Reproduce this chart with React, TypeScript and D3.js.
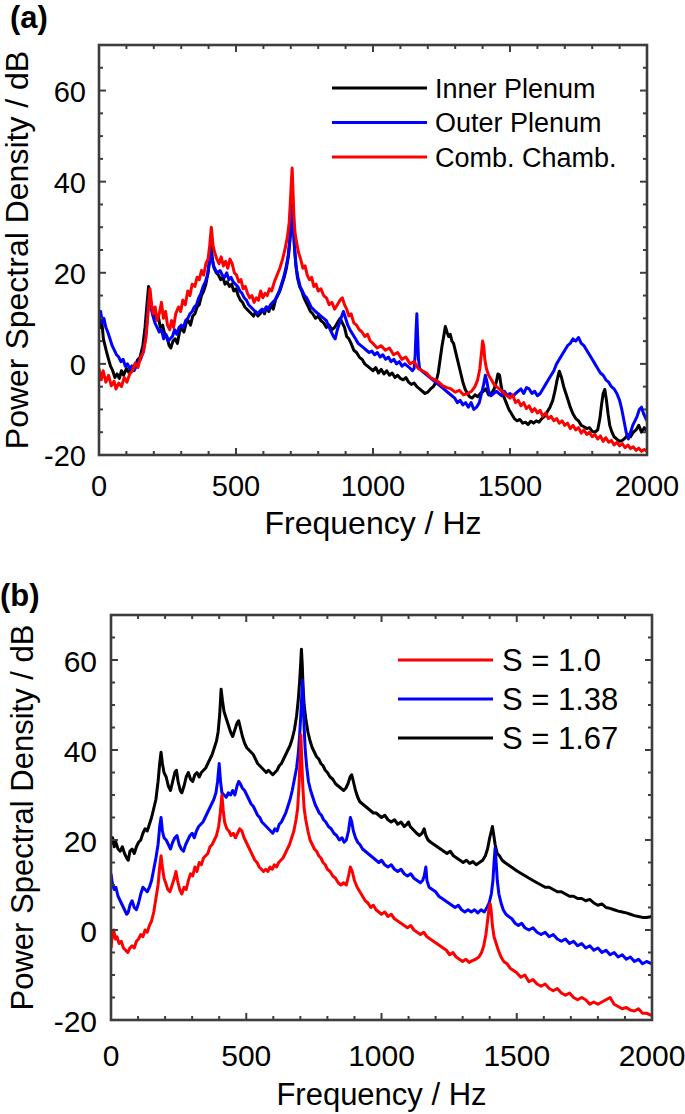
import React from 'react';
import * as d3 from 'd3';

type Pt = [number, number];

// ---------- Panel (a) data: PSD [Hz, dB] ----------
const innerPlenumA: Pt[] = [[0,11.5],[5,8],[10,9.5],[16,5.5],[22,4],[28,2.5],[35,1],[42,-0.5],[50,-1.5],[58,-3],[66,-2.2],[74,-3.2],[82,-1.5],[90,-2.5],[100,-1],[110,-2],[120,-0.5],[130,-1.2],[140,0.8],[150,1.5],[160,4],[168,8],[175,13],[181,17],[186,14.5],[192,12.5],[200,12],[208,10],[216,10.5],[224,8],[232,8.5],[240,6.5],[248,6],[256,4],[262,3.5],[270,5],[278,5.5],[286,4.5],[294,7],[302,8],[310,7],[318,9],[326,9.5],[334,8.5],[342,10.5],[350,11],[358,12.5],[366,13],[374,15],[382,16],[390,17.5],[398,20],[404,23],[409,26],[414,23],[420,21],[428,20],[436,19.5],[444,18.5],[452,19],[460,17.5],[468,18],[476,17],[484,17.5],[492,16],[500,16.5],[508,15],[516,14],[524,13.5],[532,12.5],[540,12],[548,11.5],[556,11],[564,10.5],[572,11.5],[580,10.5],[588,11],[596,12],[604,11],[612,12.5],[620,11.5],[628,13],[636,12],[644,14],[652,15],[660,16],[668,17.5],[676,19],[684,21],[692,24],[698,28],[702,32],[706,35],[709,31],[713,26],[718,22],[724,19],[732,17],[740,16],[748,14.5],[756,13.5],[764,12.5],[772,11.5],[780,11],[790,10],[800,10.5],[810,9.5],[820,9],[830,8],[840,8.5],[850,7.5],[860,8],[870,9],[880,10],[888,9],[896,8],[904,6],[912,5.5],[920,4.5],[930,3],[940,2.5],[950,1.5],[960,1],[970,0],[980,-0.5],[990,-1],[1000,-1.5],[1010,-0.8],[1020,-2],[1030,-1.2],[1040,-2.2],[1050,-1.5],[1060,-2.5],[1070,-2],[1080,-3],[1090,-2.5],[1100,-3.2],[1110,-3.5],[1120,-3],[1130,-4],[1140,-4.5],[1150,-4.2],[1160,-5],[1170,-5.5],[1180,-6],[1190,-6.5],[1200,-6.2],[1210,-5.5],[1220,-5],[1230,-4],[1238,-2],[1245,1],[1252,4],[1258,6],[1264,8.2],[1270,7],[1276,6],[1282,6.5],[1288,5],[1294,4.5],[1300,3],[1306,1.5],[1312,0],[1320,-2],[1328,-4],[1336,-5.5],[1344,-6.5],[1352,-7.2],[1362,-7.5],[1372,-6.8],[1382,-7.2],[1392,-6.5],[1402,-6],[1412,-5.5],[1422,-6.8],[1432,-6.5],[1442,-5.5],[1450,-4],[1456,-2.2],[1462,-2.5],[1468,-5],[1476,-7],[1486,-8.5],[1496,-10],[1506,-11],[1516,-12],[1526,-12.5],[1536,-12.2],[1546,-13],[1556,-12.8],[1566,-13.3],[1576,-12.6],[1586,-13],[1596,-12.5],[1606,-12.8],[1616,-12],[1626,-11.5],[1636,-10.5],[1646,-9.5],[1656,-8],[1664,-6],[1672,-3.5],[1680,-1.6],[1688,-3],[1696,-5],[1704,-6.5],[1712,-8],[1720,-9.5],[1730,-11],[1740,-12],[1750,-12.5],[1760,-13.5],[1770,-13.8],[1780,-14.2],[1790,-14],[1800,-14.8],[1810,-15],[1820,-14.5],[1828,-12],[1834,-9],[1840,-6.5],[1846,-5.6],[1852,-8],[1858,-11],[1864,-13.5],[1872,-15],[1880,-16],[1890,-16.5],[1900,-17],[1910,-16.8],[1920,-16.3],[1930,-15.5],[1940,-16],[1950,-15],[1960,-14.5],[1970,-13.5],[1980,-15],[1990,-14],[2000,-14.8]];

const outerPlenumA: Pt[] = [[0,10.5],[6,11.5],[12,9],[18,10],[25,8],[32,7],[40,5.5],[48,4],[56,3],[64,2],[72,1.5],[80,0.5],[88,1],[96,-0.5],[104,0],[112,-1],[120,-0.5],[128,-1.5],[136,-0.5],[144,0.5],[152,1],[160,2.5],[168,5],[175,9],[181,14],[186,15.5],[191,12],[197,10.5],[204,9],[212,8],[220,7],[228,7.5],[236,5.5],[244,6.5],[252,5],[260,5.5],[268,6],[276,7.5],[284,6.5],[292,8],[300,8.5],[308,8],[316,9.5],[324,10],[332,11],[340,11.5],[348,12.5],[356,13],[364,14.5],[372,15.5],[380,17],[388,18],[396,19.5],[402,22],[407,25],[412,23],[418,21.5],[426,20.5],[434,20],[442,20.5],[450,19.5],[458,19],[466,20],[474,18.5],[482,19],[490,18],[498,17.5],[506,17],[514,16],[522,15.5],[530,14.5],[538,14],[546,13],[554,12.5],[562,12],[570,11.5],[578,11],[586,11.5],[594,12],[602,11.5],[610,12.5],[618,12],[626,13],[634,13.5],[642,14],[650,15],[658,16],[666,17.5],[674,19],[682,21],[690,23.5],[696,27],[700,30],[704,33],[707,34.5],[710,30],[714,25],[720,21],[726,19],[734,17],[742,16],[750,15],[758,14.5],[766,13.5],[774,12.5],[782,12],[790,11.5],[800,11],[810,10.5],[820,10],[830,9.5],[840,8],[848,7],[856,6],[862,5.5],[870,7.5],[878,9],[886,10.5],[892,11.5],[900,10],[908,8.5],[916,7.5],[926,6.5],[936,5.5],[946,4.5],[956,4],[966,3.5],[976,3],[986,2.5],[996,2.8],[1006,2],[1016,2.5],[1026,1.5],[1036,2],[1046,1],[1056,1.5],[1066,0.5],[1076,1],[1086,0],[1096,0.5],[1106,-0.5],[1116,0],[1126,-0.5],[1136,-1],[1144,-1.5],[1150,-1],[1154,2],[1157,7],[1160,11],[1163,6],[1166,1],[1170,-1],[1178,-1.5],[1188,-2],[1198,-2.5],[1208,-3],[1218,-3.5],[1228,-4],[1238,-4.5],[1248,-5],[1258,-5.5],[1268,-6],[1278,-6.5],[1288,-7],[1298,-7.5],[1308,-8.5],[1318,-8],[1328,-9],[1338,-8.5],[1348,-9.5],[1358,-8.5],[1368,-10],[1378,-9.5],[1388,-8.5],[1396,-6.5],[1404,-4.5],[1410,-2.5],[1416,-4],[1422,-6],[1430,-7],[1440,-6.5],[1450,-6],[1460,-6.5],[1470,-7],[1480,-6],[1490,-7],[1500,-6.5],[1510,-7.2],[1520,-6.5],[1530,-6],[1540,-5.5],[1550,-6.5],[1560,-5.2],[1570,-5.5],[1580,-6.5],[1590,-6],[1600,-7],[1610,-6.5],[1620,-5.5],[1630,-4.5],[1640,-3.5],[1650,-2.5],[1660,-1.5],[1670,0],[1680,1],[1690,2],[1700,3],[1710,4],[1720,4.5],[1730,5.5],[1740,5],[1750,5.8],[1760,4.5],[1770,4],[1780,3],[1790,2],[1800,1],[1810,0],[1820,-1],[1830,-2],[1840,-2.5],[1850,-3.5],[1860,-4],[1870,-5],[1880,-5.5],[1890,-6.5],[1900,-8],[1908,-10],[1916,-12.5],[1924,-15],[1932,-16.5],[1940,-15],[1948,-13.5],[1956,-12.5],[1964,-11.5],[1972,-10],[1980,-9.5],[1988,-11],[1996,-12],[2000,-12.5]];

const combChambA: Pt[] = [[0,-1],[8,-3.5],[15,-1.5],[25,-4],[35,-2.5],[45,-4.8],[55,-3.8],[62,-5.5],[72,-4.2],[82,-5],[92,-3],[102,-4],[112,-2.2],[122,-1.5],[132,0.2],[142,-0.8],[152,1.5],[162,2.5],[172,6],[180,12],[186,16.5],[192,13],[198,11],[205,12.5],[212,9.5],[220,11],[228,13.5],[235,10],[243,11.5],[250,8.5],[258,7.5],[265,9.5],[272,8],[280,11],[290,12.5],[298,11.5],[306,14],[315,13],[324,16],[332,15],[340,17.5],[350,17],[358,19],[366,18.5],[374,20.5],[382,19.5],[390,22],[398,23],[404,26],[410,30],[416,26],[422,24.5],[430,23],[438,22],[446,23.5],[454,21.5],[462,22.5],[470,21],[478,23],[486,22],[494,20],[502,19.5],[510,18],[518,18.5],[526,16.5],[534,17],[542,15.5],[550,14.5],[558,15],[566,13.5],[574,14.5],[582,14],[590,16],[598,14.5],[606,15.5],[614,15],[622,16.5],[630,16],[640,18],[650,19.5],[660,21],[670,23],[680,25.5],[688,28],[694,31],[698,35],[702,40],[705,43],[708,38],[711,33],[715,29],[720,27],[728,24.5],[736,23],[744,21],[752,21.5],[760,19.5],[768,18.5],[776,19],[784,17],[792,17.5],[800,16],[810,16.5],[820,15],[830,14.5],[840,13],[850,13.5],[860,12],[870,13],[880,14],[888,14.5],[896,13],[904,12],[912,10.5],[920,11],[930,9],[940,8.5],[950,7.5],[960,7],[970,6],[980,6.5],[990,5],[1000,4.5],[1015,3.5],[1030,4],[1045,3],[1060,3.5],[1075,2],[1090,2.5],[1105,1],[1120,1.5],[1135,0],[1150,0.5],[1165,-1],[1180,-1.5],[1195,-2],[1210,-3],[1225,-3.5],[1240,-4],[1255,-4.8],[1270,-5.2],[1285,-5.5],[1300,-6.2],[1315,-5.8],[1330,-6.8],[1345,-6.5],[1360,-6],[1372,-5],[1382,-3.5],[1390,-1],[1396,2.5],[1400,5],[1404,4],[1408,1],[1414,-1],[1422,-2.5],[1432,-3.5],[1442,-4.5],[1455,-5.2],[1470,-6],[1485,-6.8],[1500,-7.5],[1510,-6.8],[1520,-8.5],[1530,-8],[1540,-9.2],[1550,-8.5],[1560,-9.8],[1570,-9.2],[1580,-10.5],[1590,-9.8],[1600,-10.8],[1610,-10.2],[1620,-11.5],[1630,-10.8],[1640,-12],[1650,-11.5],[1660,-12.5],[1670,-12],[1680,-13],[1690,-12.5],[1700,-13.5],[1710,-13],[1720,-14.2],[1730,-13.5],[1740,-14.5],[1750,-14],[1760,-15.2],[1770,-14.5],[1780,-15.5],[1790,-15],[1800,-16],[1810,-15.5],[1820,-16.5],[1830,-15.8],[1840,-17],[1850,-16.2],[1860,-17.2],[1870,-16.8],[1880,-17.8],[1890,-17.2],[1900,-18],[1910,-17.5],[1920,-18.4],[1930,-17.8],[1940,-18.6],[1950,-18.2],[1960,-19],[1970,-18.5],[1980,-19.2],[1990,-18.8],[2000,-19.2]];

// ---------- Panel (b) data: PSD [Hz, dB] ----------
const swirl100: Pt[] = [[0,-4],[5,-1],[10,0],[16,-2],[22,-1.5],[30,-3],[38,-2.5],[46,-4],[54,-4.5],[62,-5],[70,-4],[78,-3.5],[86,-4],[94,-2.5],[102,-2],[110,-1],[118,-1.5],[126,0],[134,-0.5],[142,1],[150,2],[158,4],[166,7],[174,10],[180,14],[185,16.5],[190,14],[196,11.5],[202,10.5],[210,9],[218,8.5],[226,10],[234,11.5],[240,13],[246,11],[254,9],[262,8],[270,9.5],[278,9],[286,11],[294,12.5],[302,12],[310,14],[318,13],[326,15],[334,14.5],[342,16],[350,16.5],[358,17],[366,18.5],[374,19],[382,20],[390,21],[398,23],[404,26],[410,30],[415,26.5],[420,24],[428,22.5],[436,22],[444,21],[452,21.5],[460,20.5],[468,21.5],[476,22.5],[484,22],[492,20.5],[500,19.5],[508,18.5],[516,17.5],[524,16.5],[532,15.5],[540,15],[548,14],[556,13.5],[564,13],[572,13.5],[580,13],[588,14],[596,13.5],[604,14.5],[612,14],[620,15],[628,15.5],[636,16],[644,17],[652,18],[660,19],[668,20.5],[676,22],[684,24.5],[690,27],[695,32],[699,38],[702,43.4],[705,38],[709,32],[714,27],[720,24.5],[728,22],[736,20],[744,19],[752,18],[760,17.5],[768,16.5],[776,16],[784,15],[792,14.5],[800,13.5],[810,13],[820,12],[830,11.5],[840,10.5],[850,10],[860,10.5],[870,10],[878,12],[885,14],[892,13],[900,11],[910,9.5],[920,8.5],[930,7.5],[940,6.5],[950,6],[960,5],[970,5.5],[980,4.5],[990,4],[1000,3.5],[1012,4],[1024,3],[1036,3.5],[1048,2.5],[1060,2],[1072,1.5],[1084,1],[1096,0.5],[1108,1],[1120,0],[1132,-0.5],[1144,-1],[1156,-0.5],[1168,-1.5],[1180,-2],[1192,-2.5],[1204,-3],[1216,-3.5],[1228,-4],[1240,-4.5],[1252,-5.5],[1264,-5],[1276,-6],[1288,-6.5],[1300,-7],[1312,-6.5],[1324,-7.2],[1336,-6.8],[1348,-6.5],[1360,-6],[1370,-5],[1378,-3.5],[1386,-1],[1392,2],[1398,5],[1402,5.8],[1406,4],[1410,1],[1416,-1.5],[1424,-3],[1432,-4.5],[1442,-6],[1452,-7],[1464,-7.5],[1476,-8.5],[1488,-9],[1500,-9.5],[1515,-10.5],[1530,-10],[1545,-11.5],[1560,-11],[1575,-12],[1590,-12.5],[1605,-12],[1620,-13],[1635,-13.5],[1650,-13],[1665,-14],[1680,-14.5],[1695,-14],[1710,-15],[1725,-15.5],[1740,-15],[1755,-15.5],[1770,-16.5],[1785,-16],[1800,-16.5],[1815,-16],[1830,-15.5],[1845,-15],[1860,-16.5],[1875,-17],[1890,-17.5],[1905,-17.2],[1920,-17.8],[1935,-18],[1950,-17.5],[1965,-18.5],[1980,-18.5],[2000,-19]];

const swirl138: Pt[] = [[0,12.5],[6,10],[12,9],[18,9.5],[26,7.5],[34,6.5],[42,5.5],[50,4.5],[58,3.5],[64,4],[70,5.5],[78,6.5],[86,5],[94,4.5],[102,6],[110,8],[118,9.5],[126,9],[134,8.5],[142,9.5],[150,11],[158,13.5],[166,16],[174,19],[180,23],[185,25],[190,22],[196,20.5],[204,20],[212,19],[220,18],[228,19.5],[236,20.5],[244,21],[252,19],[260,18],[268,17.5],[276,19],[284,20],[292,21],[300,21.5],[308,20.5],[316,22],[324,23],[332,23.5],[340,24],[348,25],[356,26],[364,27],[372,28],[380,29],[388,30.5],[394,33],[400,37],[405,33],[410,30.5],[418,30],[426,29.5],[434,30.5],[442,30],[450,31],[458,30],[466,32],[472,33],[478,32.5],[486,31.5],[494,31],[502,30],[510,29],[518,28],[526,27.5],[534,26.5],[542,25.5],[550,25],[558,24],[566,23.5],[574,23],[582,22.5],[590,22],[598,21.5],[606,22.5],[614,22],[622,23.5],[630,24],[638,25],[646,26],[654,27.5],[662,29],[670,31],[678,33.5],[686,36],[692,39],[697,43],[701,47],[705,52],[708,55.5],[711,51],[714,45],[718,40],[724,36],[730,33],[738,31],[746,29.5],[754,28],[762,27],[770,26],[778,25.5],[786,24.5],[794,24],[804,23],[814,22.5],[824,21.5],[834,21],[844,20],[854,20.5],[862,19.5],[870,20],[878,22],[885,25],[890,24],[896,22],[904,20.5],[912,19.5],[920,19],[930,18],[940,17.5],[950,17],[960,16.5],[970,16],[980,15.5],[990,15],[1000,15.5],[1012,14.5],[1024,14],[1036,14.5],[1048,13.5],[1060,13],[1072,13.5],[1084,12.5],[1096,12],[1108,12.5],[1120,11.5],[1132,11],[1144,10.5],[1152,11],[1158,12],[1164,14],[1168,11],[1176,9.5],[1188,9],[1200,8.5],[1212,7.5],[1224,7],[1236,6.5],[1248,6],[1260,5.5],[1272,5],[1284,5.5],[1296,4.5],[1308,4],[1320,4.5],[1332,4],[1344,4.5],[1356,3.8],[1368,4.5],[1380,4],[1390,5],[1398,6],[1406,8],[1412,11],[1416,15],[1420,18.2],[1424,15],[1428,11],[1434,8],[1442,6],[1450,4.5],[1460,3.5],[1470,3],[1482,2.5],[1494,1.5],[1506,1],[1518,1.5],[1530,0.5],[1545,0],[1560,0.5],[1575,-0.5],[1590,-1],[1605,-0.5],[1620,-1.5],[1635,-1],[1650,-2],[1665,-2.5],[1680,-2],[1695,-3],[1710,-2.5],[1725,-3.5],[1740,-3],[1755,-4],[1770,-3.5],[1785,-4.5],[1800,-4],[1815,-5],[1830,-4.5],[1845,-5.5],[1860,-5],[1875,-6],[1890,-5.5],[1905,-6.5],[1920,-6],[1935,-7],[1950,-6.5],[1965,-7.5],[1980,-7],[2000,-7.5]];

const swirl167: Pt[] = [[0,19],[6,20.5],[12,18.5],[18,19.5],[26,18],[34,17.5],[42,18.5],[50,17],[58,16],[64,15.5],[70,17.5],[78,18],[86,17],[94,18.5],[102,19.5],[110,20],[118,21.5],[126,22.5],[134,22],[142,23.5],[150,25],[158,27],[166,29],[174,33],[180,37],[185,39.5],[190,37],[196,35],[204,34],[212,32],[220,31],[228,33],[236,35],[242,35.5],[248,33],[256,31],[262,30.5],[270,32],[278,34],[286,35],[294,33.5],[302,33],[310,34.5],[318,35],[326,34],[334,35],[342,35.5],[350,36],[358,37],[366,38],[374,39],[382,40.5],[390,42],[396,44],[402,48],[407,53.5],[412,51],[418,48.5],[426,47],[434,45.5],[442,44],[450,43],[458,44.5],[466,46],[472,46.5],[478,45],[486,43],[494,41.5],[502,40.5],[510,40],[518,39.5],[526,39],[534,38],[542,37],[550,36.5],[558,36],[566,35.5],[574,35],[582,35.5],[590,35],[598,34.5],[606,35],[614,35.5],[622,36.5],[630,37],[638,38],[646,39],[654,40],[662,41],[670,42.5],[678,44.5],[686,47.5],[692,51],[697,55],[701,59],[704,62.4],[707,59],[710,54],[714,50],[720,47],[728,44],[736,42],[744,40.5],[752,39.5],[760,38.5],[768,38],[776,37],[784,36.5],[792,35.5],[800,35],[810,34],[820,33.5],[830,32.5],[840,32],[850,31.5],[860,31],[868,31.5],[876,32.5],[884,34],[890,34.5],[896,33],[904,31],[912,29.5],[920,28.5],[930,28],[940,27.5],[950,27],[960,26.5],[970,26],[980,26],[990,25.5],[1000,25],[1012,25.5],[1024,24.5],[1036,24],[1048,24.5],[1060,23.5],[1072,24],[1084,23],[1094,23.5],[1100,24],[1106,23],[1114,22.5],[1122,22],[1130,21.5],[1140,21],[1150,21.5],[1158,22.5],[1164,21],[1172,20],[1182,19.5],[1194,19],[1206,18.5],[1218,18],[1230,17.5],[1242,17],[1254,17.5],[1266,16.5],[1278,16],[1290,15.5],[1302,15],[1314,15.5],[1326,14.8],[1338,15.2],[1350,14.5],[1362,15],[1374,15.5],[1384,16.5],[1392,18],[1400,20.5],[1406,22],[1410,23],[1414,21.5],[1420,19],[1428,17],[1436,16.5],[1446,15.5],[1456,15],[1468,14.5],[1480,14],[1492,13.5],[1504,13],[1518,12.5],[1532,12],[1546,11.5],[1560,11],[1575,10.5],[1590,10],[1605,9.5],[1620,9.5],[1635,9],[1650,8.5],[1665,8.5],[1680,8],[1695,7.5],[1710,7.5],[1725,7],[1740,7],[1755,6.5],[1770,6.8],[1785,6],[1800,5.5],[1815,5.8],[1830,5],[1845,4.8],[1860,4.5],[1875,4.2],[1890,4],[1905,3.8],[1920,3.5],[1935,3.2],[1950,3],[1965,2.8],[1980,2.8],[2000,3]];

// ---------- Axes / labels ----------
const xDomain: [number, number] = [0, 2000];
const yDomain: [number, number] = [-20, 70];
const xMajorTicks = [0, 500, 1000, 1500, 2000];
const yMajorTicks = [-20, 0, 20, 40, 60];
const xMinorStep = 100;
const yMinorStep = 5;
const xLabel = 'Frequency / Hz';
const yLabel = 'Power Spectral Density / dB';

const legendA = ['Inner Plenum', 'Outer Plenum', 'Comb. Chamb.'];
const legendB = ['S = 1.0', 'S = 1.38', 'S = 1.67'];

const FONT = "'Liberation Sans', Arial, Helvetica, sans-serif";
const AXIS_COLOR = '#3d3d3d';

interface SeriesDef { data: Pt[]; color: string; }
interface LegendDef { label: string; color: string; }

interface PanelProps {
  tag: string; tagX: number; tagY: number;
  x0: number; x1: number; y0: number; y1: number;
  series: SeriesDef[];
  legend: LegendDef[];
  legX0: number; legX1: number; legY: number[]; legTextX: number; legFont: number;
  tickFont: number; tickLabelGap: number; xTickBaseline: number;
  labelFont: number; xLabelBaseline: number; yLabelX: number;
}

function Panel(p: PanelProps) {
  const x = d3.scaleLinear().domain(xDomain).range([p.x0, p.x1]);
  const y = d3.scaleLinear().domain(yDomain).range([p.y1, p.y0]);
  const line = d3.line<Pt>().x(d => x(d[0])).y(d => y(d[1]));
  const xMinor = d3.range(xDomain[0], xDomain[1] + 1, xMinorStep);
  const yMinor = d3.range(yDomain[0], yDomain[1] + 1, yMinorStep);
  const maj = 7, min = 4;
  const clipId = 'clip-' + p.tag.replace(/[()]/g, '');
  return (
    <g>
      <text x={p.tagX} y={p.tagY} fontFamily={FONT} fontWeight="bold" fontSize={31} fill="#000">{p.tag}</text>
      <defs>
        <clipPath id={clipId}>
          <rect x={p.x0} y={p.y0} width={p.x1 - p.x0} height={p.y1 - p.y0} />
        </clipPath>
      </defs>
      <g clipPath={`url(#${clipId})`}>
        {p.series.map((s, i) => (
          <path key={i} d={line(s.data) || ''} fill="none" stroke={s.color} strokeWidth={3} strokeLinejoin="round" />
        ))}
      </g>
      <g stroke={AXIS_COLOR} strokeWidth={2}>
        {xMinor.map(v => {
          const L = xMajorTicks.includes(v) ? maj : min;
          return (
            <g key={'xt' + v}>
              <line x1={x(v)} x2={x(v)} y1={p.y1} y2={p.y1 - L} />
              <line x1={x(v)} x2={x(v)} y1={p.y0} y2={p.y0 + L} />
            </g>
          );
        })}
        {yMinor.map(v => {
          const L = yMajorTicks.includes(v) ? maj : min;
          return (
            <g key={'yt' + v}>
              <line x1={p.x0} x2={p.x0 + L} y1={y(v)} y2={y(v)} />
              <line x1={p.x1} x2={p.x1 - L} y1={y(v)} y2={y(v)} />
            </g>
          );
        })}
      </g>
      <rect x={p.x0} y={p.y0} width={p.x1 - p.x0} height={p.y1 - p.y0} fill="none" stroke={AXIS_COLOR} strokeWidth={2.6} />
      <g fontFamily={FONT} fontSize={p.tickFont} fill="#000">
        {xMajorTicks.map(v => (
          <text key={'xl' + v} x={x(v)} y={p.xTickBaseline} textAnchor="middle">{v}</text>
        ))}
        {yMajorTicks.map(v => (
          <text key={'yl' + v} x={p.x0 - p.tickLabelGap} y={y(v) + p.tickFont * 0.36 + 1} textAnchor="end">{v}</text>
        ))}
      </g>
      <text x={(p.x0 + p.x1) / 2} y={p.xLabelBaseline} textAnchor="middle" fontFamily={FONT} fontSize={p.labelFont} fill="#000">{xLabel}</text>
      <text transform={`translate(${p.yLabelX},${(p.y0 + p.y1) / 2}) rotate(-90)`} textAnchor="middle" fontFamily={FONT} fontSize={p.labelFont} fill="#000">{yLabel}</text>
      <g fontFamily={FONT} fontSize={p.legFont} fill="#000">
        {p.legend.map((l, i) => (
          <g key={'lg' + i}>
            <line x1={p.legX0} x2={p.legX1} y1={p.legY[i]} y2={p.legY[i]} stroke={l.color} strokeWidth={2.8} />
            <text x={p.legTextX} y={p.legY[i] + p.legFont * 0.36}>{l.label}</text>
          </g>
        ))}
      </g>
    </g>
  );
}

export default function App() {
  return (
    <svg width={685} height={1114} style={{ position: 'absolute', left: 0, top: 0, background: '#fff' }}>
      <rect x={0} y={0} width={685} height={1114} fill="#fff" />
      <Panel
        tag="(a)" tagX={10} tagY={28}
        x0={99} x1={647} y0={45} y1={455}
        series={[
          { data: innerPlenumA, color: '#000000' },
          { data: outerPlenumA, color: '#0000ff' },
          { data: combChambA, color: '#ff0000' },
        ]}
        legend={[
          { label: legendA[0], color: '#000000' },
          { label: legendA[1], color: '#0000ff' },
          { label: legendA[2], color: '#ff0000' },
        ]}
        legX0={332} legX1={427} legY={[88, 122.5, 157]} legTextX={435} legFont={27}
        tickFont={29} tickLabelGap={13} xTickBaseline={496}
        labelFont={32} xLabelBaseline={534} yLabelX={28}
      />
      <Panel
        tag="(b)" tagX={0} tagY={606}
        x0={111} x1={652} y0={615} y1={1020}
        series={[
          { data: swirl167, color: '#000000' },
          { data: swirl138, color: '#0000ff' },
          { data: swirl100, color: '#ff0000' },
        ]}
        legend={[
          { label: legendB[0], color: '#ff0000' },
          { label: legendB[1], color: '#0000ff' },
          { label: legendB[2], color: '#000000' },
        ]}
        legX0={398} legX1={493} legY={[660, 699, 738]} legTextX={502} legFont={31}
        tickFont={30} tickLabelGap={14} xTickBaseline={1066}
        labelFont={31} xLabelBaseline={1105} yLabelX={33}
      />
    </svg>
  );
}
